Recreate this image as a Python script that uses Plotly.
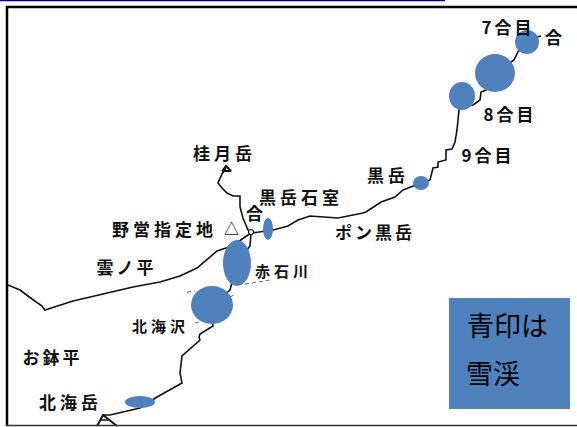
import plotly.graph_objects as go

# Route lines (x, y on a 577 x 427 map grid)
north_x = [541, 537, 527, 518, 514, 495, 486, 481, 480, 473, 461, 459, 458, 457, 455, 452, 446, 446, 438, 438, 433, 432, 430, 421, 410, 403, 395, 381, 366, 363, 338, 325, 310, 298, 288, 273, 252]
north_y = [36, 37, 42, 52, 60, 73, 90, 92, 100, 105, 107, 110, 120, 130, 142, 149, 150, 160, 162, 167, 168, 173, 180, 183, 187, 190, 197, 202, 212, 213, 218, 217, 216, 220, 226, 230, 233]
katsura_x = [226, 222, 218, 222, 227, 233, 240, 240, 243, 248, 251]
katsura_y = [168, 174, 183, 188, 193, 196, 196, 207, 218, 230, 233]
west_x = [251, 232, 217, 207, 197, 180, 160, 133, 100, 73, 45, 42, 32, 20, 8]
west_y = [233, 246, 251, 260, 268, 276, 282, 287, 295, 301, 310, 306, 299, 290, 285]
south_x = [251, 250, 237, 230, 212, 213, 200, 199, 200, 182, 180, 182, 157, 140, 110, 103]
south_y = [233, 246, 263, 290, 305, 326, 334, 337, 340, 356, 373, 383, 397, 408, 415, 415]
peak_x = [97, 103, 117]
peak_y = [426, 415, 426]
peak_inner_x = [100, 110]
peak_inner_y = [420, 420]
peak_top_x = [222, 226, 231, 222]
peak_top_y = [171, 166, 171, 171]
junction_x = [251]
junction_y = [232]
stream_segments_x = [[187, 195], [245, 270], [195, 202], [230, 236]]
stream_segments_y = [[292, 291], [284, 280], [323, 321], [297, 294]]

# Snow patches
snow_cx = [527, 495, 462, 421, 268, 237, 212, 140]
snow_cy = [42, 73, 96, 183, 229, 263, 305, 402]
snow_rx = [12, 20, 13, 8, 5, 14, 21, 15]
snow_ry = [12, 19, 14, 7, 11, 23, 19, 6]

# Place names
label_text = ["7合目", "合", "8合目", "9合目", "黒岳", "桂月岳", "黒岳石室", "合", "ポン黒岳", "野営指定地", "△", "雲ノ平", "赤石川", "北海沢", "お鉢平", "北海岳"]
label_x = [508, 553, 510, 488, 388, 224, 301, 254, 375, 164, 231, 126, 283, 160, 52, 70]
label_y = [26, 36, 113, 154, 174, 152, 196, 212, 231, 228, 227, 266, 270, 325, 356, 401]
label_size = [17, 17, 17, 17, 17, 17, 17, 17, 17, 17, 15, 17, 15, 15, 17, 17]
label_gap = [3, 0, 3, 3, 4, 4, 4, 0, 3, 4, 0, 3, 4, 4, 3, 4]

note_lines = ["青印は", "雪渓"]
note_x = [507, 493]
note_y = [324, 372]

BLUE = "#4F81BD"
INK = "#111111"
FONT = "Noto Sans CJK JP"

fig = go.Figure()


def route(xs, ys, width=1.6, color=INK, dash="solid"):
    fig.add_trace(go.Scatter(x=xs, y=ys, mode="lines", hoverinfo="skip",
                             line=dict(color=color, width=width, dash=dash)))


route(north_x, north_y)
route(katsura_x, katsura_y)
route(west_x, west_y)
route(south_x, south_y)
route(peak_x, peak_y, 2)
route(peak_inner_x, peak_inner_y, 1.5)
route(peak_top_x, peak_top_y, 2)
for sx, sy in zip(stream_segments_x, stream_segments_y):
    route(sx, sy, 1, "#666666", "4px,3px")
fig.add_trace(go.Scatter(x=junction_x, y=junction_y, mode="markers", hoverinfo="skip",
                         marker=dict(size=5, color="white", line=dict(color=INK, width=1.2))))

shapes = [
    dict(type="line", xref="x", yref="y", x0=0, x1=445, y0=0.5, y1=0.5, line=dict(color="#00008B", width=1.5)),
    dict(type="line", xref="x", yref="y", x0=6, x1=577, y0=7, y1=7, line=dict(color="#000000", width=2.5)),
    dict(type="line", xref="x", yref="y", x0=7, x1=7, y0=6, y1=426, line=dict(color="#000000", width=2.5)),
    dict(type="line", xref="x", yref="y", x0=6, x1=577, y0=425.5, y1=425.5, line=dict(color="#333333", width=1.5)),
    dict(type="rect", xref="x", yref="y", x0=449, x1=570, y0=298, y1=409, fillcolor=BLUE, line=dict(width=0)),
]
for cx, cy, rx, ry in zip(snow_cx, snow_cy, snow_rx, snow_ry):
    shapes.append(dict(type="circle", xref="x", yref="y", x0=cx - rx, x1=cx + rx, y0=cy - ry, y1=cy + ry,
                       fillcolor=BLUE, line=dict(width=0)))

annotations = []
for t, x, y, s in zip(label_text, label_x, label_y, label_size):
    annotations.append(dict(x=x, y=y, xref="x", yref="y", text=t, showarrow=False,
                            xanchor="center", yanchor="middle",
                            font=dict(family=FONT, size=s, color="#111111", weight=700)))
for t, x, y in zip(note_lines, note_x, note_y):
    annotations.append(dict(x=x, y=y, xref="x", yref="y", text=t, showarrow=False,
                            xanchor="center", yanchor="middle",
                            font=dict(family=FONT, size=27, color="#000000")))

fig.update_layout(
    width=577, height=427, margin=dict(l=0, r=0, t=0, b=0),
    paper_bgcolor="white", plot_bgcolor="white", showlegend=False,
    xaxis=dict(range=[0, 577], visible=False, fixedrange=True),
    yaxis=dict(range=[427, 0], visible=False, fixedrange=True),
    shapes=shapes, annotations=annotations,
)
gaps = ",".join(str(g) for g in label_gap)
script = ("document.body.style.margin='0';"
          "var gaps=[" + gaps + "];"
          "document.querySelectorAll('.annotation-text').forEach(function(t,i){"
          "if(i<gaps.length){t.style.letterSpacing=gaps[i]+'px';}});")
fig.write_html("out.html", config={"displayModeBar": False}, post_script=script)
